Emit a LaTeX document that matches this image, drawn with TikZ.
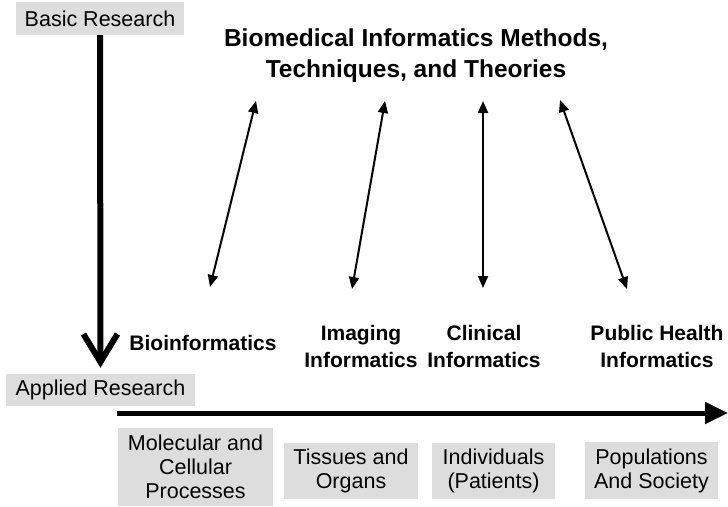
\documentclass[tikz,border=0pt]{standalone}
\usepackage{fontspec}
\setmainfont{Liberation Sans}
\usetikzlibrary{arrows.meta}
\definecolor{boxgrey}{RGB}{221,221,221}
\tikzset{
	greybox/.style = {fill = boxgrey, inner sep = 0pt, align = center, font = \fontsize{21.5}{24}\selectfont},
	fieldlabel/.style = {align = center, font = \fontsize{21}{27}\selectfont\bfseries},
	twoway/.style = {line width = 2pt, {Triangle[length=12pt,width=10pt]}-{Triangle[length=12pt,width=10pt]}}
}
\begin{document}
\begin{tikzpicture}[x=1pt, y=-1pt]
				\useasboundingbox (0,0) rectangle (728,506);
				\node [greybox, minimum width = 168pt, minimum height = 33pt] (basic) at (100,18.5) {Basic Research};
				\node [greybox, minimum width = 189pt, minimum height = 32pt] (applied) at (100.5,390) {Applied Research};
				\node [align = center, font = \fontsize{24.5}{31}\selectfont\bfseries] (title) at (416,56) {Biomedical Informatics Methods,\\Techniques, and Theories};
				%
				\node [fieldlabel] (bio) at (203,343) {Bioinformatics};
				\node [fieldlabel] (imag) at (361,346) {Imaging\\Informatics};
				\node [fieldlabel] (clin) at (484,346) {Clinical\\Informatics};
				\node [fieldlabel] (pub) at (657,346) {Public Health\\Informatics};
				%
				\node [greybox, minimum width = 155pt, minimum height = 78pt] (mol) at (195.5,467) {Molecular and\\Cellular\\Processes};
				\node [greybox, minimum width = 134pt, minimum height = 56pt] (tis) at (351,471) {Tissues and\\Organs};
				\node [greybox, minimum width = 123pt, minimum height = 56pt] (ind) at (493.5,471) {Individuals\\(Patients)};
				\node [greybox, minimum width = 133pt, minimum height = 57pt] (pop) at (651.5,470.5) {Populations\\And Society};
				%
				\draw [line width = 6pt, -{Straight Barb[length=28pt,width=34pt]}, shorten > = 6pt] (basic) -- (applied);
				\coordinate (hstart) at (117,413);
				\coordinate (hend) at (728,413);
				\draw [line width = 5pt, -{Triangle[length=23pt,width=21pt]}] (hstart) -- (hend);
				%
				\coordinate (bio low) at (210,287);
				\coordinate (bio high) at (256,101);
				\coordinate (imag low) at (352,289);
				\coordinate (imag high) at (385,101);
				\coordinate (clin low) at (483,288);
				\coordinate (clin high) at (483,101);
				\coordinate (pub low) at (627,289);
				\coordinate (pub high) at (560,100);
				\draw [twoway] (bio low) -- (bio high);
				\draw [twoway] (imag low) -- (imag high);
				\draw [twoway] (clin low) -- (clin high);
				\draw [twoway] (pub low) -- (pub high);
\end{tikzpicture}
\end{document}
